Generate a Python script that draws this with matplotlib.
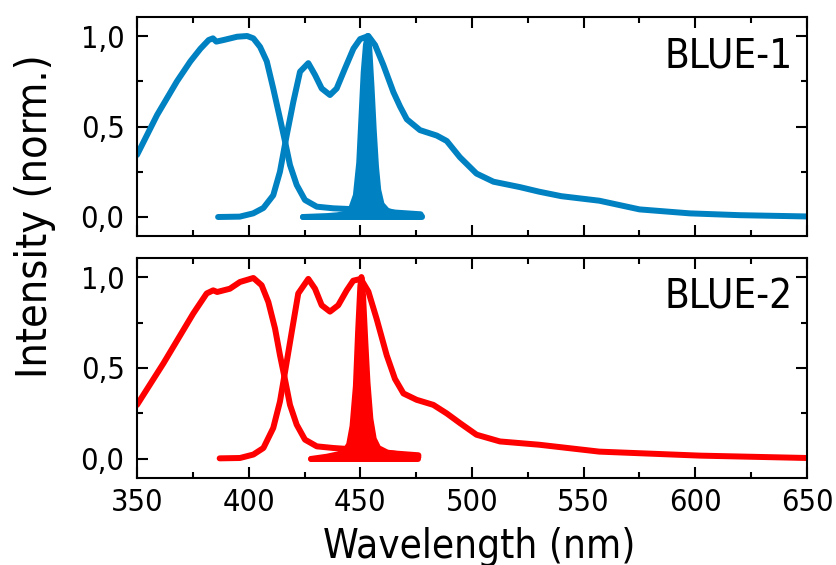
import matplotlib
matplotlib.use("Agg")
import matplotlib.pyplot as plt
from matplotlib.ticker import MultipleLocator, FuncFormatter

plt.rcParams['font.family'] = ['DejaVu Sans']
plt.rcParams['font.stretch'] = 'condensed'

blue_color = "#0081C2"
red_color = "#FF0000"

# BLUE-1: absorption
b1_abs_x = [350, 359, 367.9, 373.9, 378.4, 382.1, 384, 385.5, 388.8, 394.8, 399.3, 402.1,
            405.1, 408.1, 411, 414, 416.3, 418.5, 421.5, 425.2, 430.5, 437.9, 445.4, 455,
            465, 477]
b1_abs_y = [0.343, 0.564, 0.75, 0.86, 0.93, 0.978, 0.987, 0.969, 0.978, 0.996, 1.0, 0.987,
            0.94, 0.86, 0.71, 0.545, 0.416, 0.287, 0.177, 0.094, 0.057, 0.048, 0.044, 0.035,
            0.025, 0.015]
# BLUE-1: emission
b1_em_x = [386.3, 396, 402, 406.6, 411, 414, 417, 420, 423, 426.7, 429.7, 432.7, 436.4,
           439.4, 443.1, 446.9, 449.9, 453.6, 456.6, 460.3, 464.8, 467.8, 470.8, 476.7,
           484.2, 488.7, 494.6, 502, 509.6, 521.5, 530, 540, 557, 575, 597.6, 620, 650]
b1_em_y = [0.0, 0.002, 0.02, 0.05, 0.12, 0.25, 0.45, 0.637, 0.803, 0.85, 0.785, 0.71, 0.674,
           0.71, 0.82, 0.93, 0.983, 1.0, 0.95, 0.84, 0.69, 0.61, 0.54, 0.48, 0.45, 0.42,
           0.33, 0.24, 0.195, 0.165, 0.14, 0.115, 0.09, 0.042, 0.02, 0.01, 0.003]
# BLUE-1: narrow (laser-like) emission
b1_nar_x = [424.3, 435, 440, 444, 446, 448, 449.5, 450.5, 451.5, 452.5, 453.3, 454, 455, 456,
            457, 458, 459.5, 462, 466, 471, 477.5]
b1_nar_y = [0.0, 0.005, 0.01, 0.02, 0.05, 0.12, 0.3, 0.55, 0.8, 0.95, 1.0, 0.93, 0.72, 0.48,
            0.28, 0.15, 0.07, 0.035, 0.02, 0.01, 0.005]

# BLUE-2: absorption
b2_abs_x = [350, 361.8, 375.2, 381.2, 384.1, 385.9, 391.6, 396.1, 402.1, 405.8, 408.8,
            411.8, 414, 416.3, 418.5, 421.5, 425.2, 430.5, 437.9, 443.8, 455, 465, 476]
b2_abs_y = [0.297, 0.525, 0.80, 0.91, 0.927, 0.918, 0.936, 0.973, 0.995, 0.955, 0.863,
            0.717, 0.571, 0.434, 0.297, 0.188, 0.106, 0.069, 0.06, 0.055, 0.04, 0.03, 0.02]
# BLUE-2: emission
b2_em_x = [387, 396.1, 402.1, 406.6, 411, 414, 416.3, 419.3, 422.2, 426.7, 429.7, 432.7,
           436.4, 440.1, 443.9, 446.8, 450.2, 453.6, 457.3, 461.8, 465.5, 469.3, 475.2,
           482.7, 488.7, 494.6, 502, 512.5, 530, 557, 602, 650]
b2_em_y = [0.003, 0.005, 0.024, 0.06, 0.17, 0.315, 0.48, 0.70, 0.91, 0.99, 0.936, 0.845,
           0.81, 0.845, 0.927, 0.98, 0.99, 0.92, 0.77, 0.57, 0.44, 0.36, 0.325, 0.297, 0.25,
           0.197, 0.133, 0.096, 0.078, 0.04, 0.018, 0.005]
# BLUE-2: narrow emission
b2_nar_x = [428, 435, 440, 443, 445, 446.5, 448, 449, 450, 450.5, 451.2, 452.2, 453.2,
            454.5, 456, 458, 462, 470, 476]
b2_nar_y = [0.0, 0.012, 0.025, 0.04, 0.08, 0.18, 0.4, 0.7, 0.95, 1.0, 0.9, 0.65, 0.42,
            0.22, 0.11, 0.06, 0.035, 0.02, 0.01]

panel_labels = ["BLUE-1", "BLUE-2"]
x_ticks = [350, 400, 450, 500, 550, 600, 650]
y_ticks = [0.0, 0.5, 1.0]

fig = plt.figure(figsize=(8.36, 5.65), dpi=100)
ax1 = fig.add_axes([0.1639, 0.5823, 0.8014, 0.3876])
ax2 = fig.add_axes([0.1639, 0.1540, 0.8014, 0.3894])

lw = 4.3
panels = [
    (ax1, blue_color, b1_abs_x, b1_abs_y, b1_em_x, b1_em_y, b1_nar_x, b1_nar_y, panel_labels[0]),
    (ax2, red_color, b2_abs_x, b2_abs_y, b2_em_x, b2_em_y, b2_nar_x, b2_nar_y, panel_labels[1]),
]

for ax, c, ax_x, ax_y, ex, ey, nx, ny, lab in panels:
    ax.plot(ax_x, ax_y, color=c, lw=lw, solid_capstyle='round', solid_joinstyle='round')
    ax.plot(ex, ey, color=c, lw=lw, solid_capstyle='round', solid_joinstyle='round')
    ax.fill_between(nx, 0, ny, color=c, lw=0)
    ax.plot(nx, ny, color=c, lw=lw, solid_capstyle='round', solid_joinstyle='round')
    ax.plot(nx, [0] * len(nx), color=c, lw=lw, solid_capstyle='round')
    ax.set_xlim(350, 650)
    ax.set_ylim(-0.105, 1.105)
    ax.set_xticks(x_ticks)
    ax.set_yticks(y_ticks)
    ax.xaxis.set_minor_locator(MultipleLocator(25))
    ax.yaxis.set_minor_locator(MultipleLocator(0.25))
    ax.yaxis.set_major_formatter(FuncFormatter(lambda v, p: f"{v:.1f}".replace('.', ',')))
    ax.tick_params(which='both', direction='in', top=True, right=True, width=1.5,
                   labelsize=22, color='black')
    ax.tick_params(which='major', length=8)
    ax.tick_params(which='minor', length=4.5)
    ax.tick_params(axis='y', pad=9)
    ax.tick_params(axis='x', pad=7)
    for s in ax.spines.values():
        s.set_linewidth(1.5)
    ax.text(0.978, 0.82, lab, transform=ax.transAxes, ha='right', va='center', fontsize=29)

ax1.tick_params(labelbottom=False)

fig.text(0.573, 0.012, "Wavelength (nm)", ha='center', va='baseline', fontsize=29)
fig.text(0.042, 0.6177, "Intensity (norm.)", ha='center', va='center', rotation=90, fontsize=31)

fig.savefig("out.png", dpi=100)
